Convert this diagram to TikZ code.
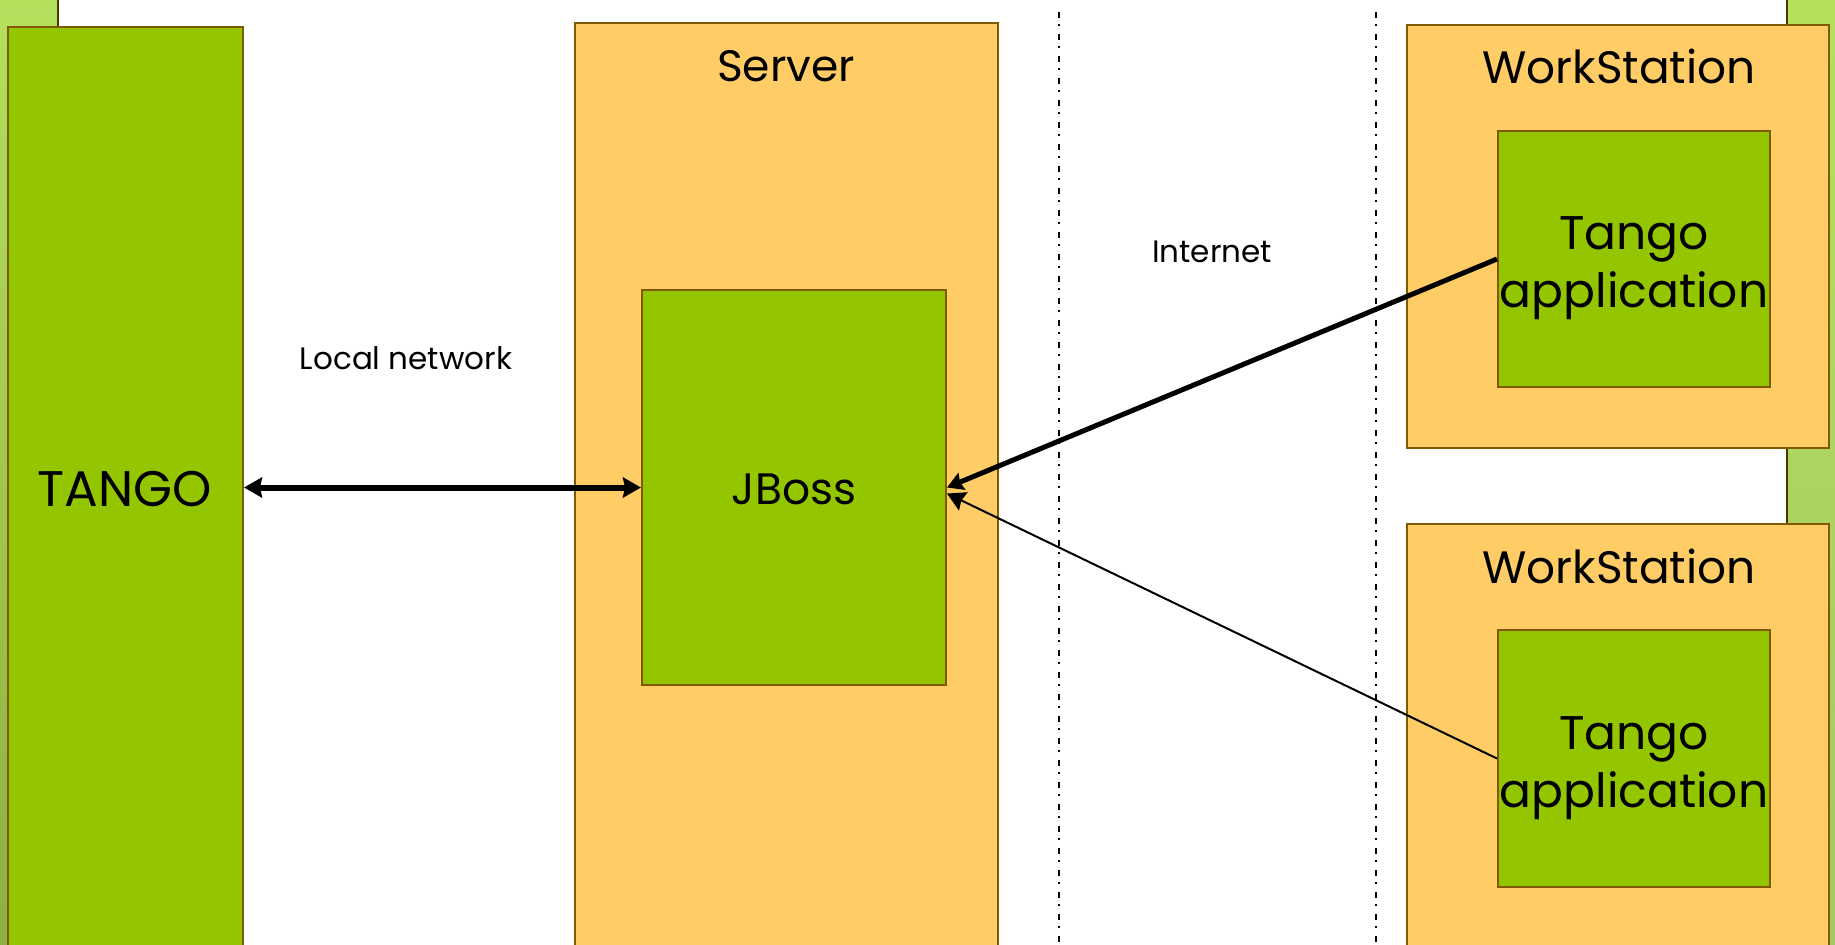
\documentclass[tikz,border=0pt]{standalone}
\usepackage{fontspec}
\setmainfont{Poppins}
\usetikzlibrary{arrows.meta,fit}
\definecolor{grn}{HTML}{94C600}
\definecolor{org}{HTML}{FFCC66}
\definecolor{brd}{HTML}{7F5A00}
\definecolor{stripA}{HTML}{B4E05C}
\definecolor{stripB}{HTML}{8DB040}
\definecolor{stripC}{HTML}{A6C862}
\tikzset{
  gbox/.style={draw=brd, fill=grn, line width=1pt, inner sep=0pt},
  obox/.style={draw=brd, fill=org, line width=1pt, inner sep=0pt},
  big/.style={font=\fontsize{23}{28}\selectfont, text=black},
  small/.style={font=\fontsize{15.5}{18}\selectfont, text=black},
  sep/.style={line width=1.1pt, dash pattern=on 3.2pt off 3pt on 1pt off 3.8pt},
  tip/.style={-{Stealth[length=9pt,width=10pt,inset=1pt]}},
}
\begin{document}
\begin{tikzpicture}[x=0.5pt,y=-0.5pt]
\useasboundingbox (0,0) rectangle (1835,944);
\clip (0,0) rectangle (1835,944);
% side strips
\shade[top color=stripA, bottom color=stripB] (0,0) rectangle (58,944);
\shade[top color=stripA, bottom color=stripC] (1787,0) rectangle (1835,944);
\draw[line width=1pt, brd!60!black] (58,0) -- (58,30);
\draw[line width=1pt, brd!60!black] (1787,0) -- (1787,944);
% separators
\coordinate (s1t) at (1059,12); \coordinate (s1b) at (1059,944);
\coordinate (s2t) at (1376,12); \coordinate (s2b) at (1376,944);
\draw[sep] (s1t) -- (s1b);
\draw[sep] (s2t) -- (s2b);
% boxes
\node[gbox, fit={(8,27) (243,960)}] (tango) {};
\node[big, font=\fontsize{25}{28}\selectfont] (tangoT) at (125,489) {TANGO};
\node[obox, fit={(575,23) (998,960)}] (server) {};
\node[big, font=\fontsize{22}{28}\selectfont] (serverT) at (786,66) {Server};
\node[gbox, fit={(642,290) (946,685)}] (jboss) {};
\node[big, font=\fontsize{22}{28}\selectfont] (jbossT) at (794,489) {JBoss};
\node[obox, fit={(1407,25) (1829,448)}] (ws1) {};
\node[big, font=\fontsize{22.7}{28}\selectfont] (ws1T) at (1619,66) {WorkStation};
\node[gbox, fit={(1498,131) (1770,387)}] (app1) {};
\node[big, align=center, font=\fontsize{23.6}{29}\selectfont] (app1T) at (1634,268) {Tango\\application};
\node[obox, fit={(1407,524) (1829,960)}] (ws2) {};
\node[big, font=\fontsize{22.7}{28}\selectfont] (ws2T) at (1619,566) {WorkStation};
\node[gbox, fit={(1498,630) (1770,887)}] (app2) {};
\node[big, align=center, font=\fontsize{23.6}{29}\selectfont] (app2T) at (1634,768) {Tango\\application};
% labels
\node[small] (lan) at (406,358) {Local network};
\node[small] (inet) at (1212,252) {Internet};
% connectors
\draw[line width=3pt, {Stealth[length=9pt,width=10pt,inset=1pt]}-{Stealth[length=9pt,width=10pt,inset=1pt]}] (tango.east |- jboss.west) -- (jboss.west);
\draw[line width=1pt, tip] (app2.west) -- ([yshift=-3pt]jboss.east);
\draw[line width=2.5pt, -{Stealth[length=8pt,width=9pt,inset=1pt]}] (app1.west) -- (jboss.east);
\end{tikzpicture}
\end{document}
